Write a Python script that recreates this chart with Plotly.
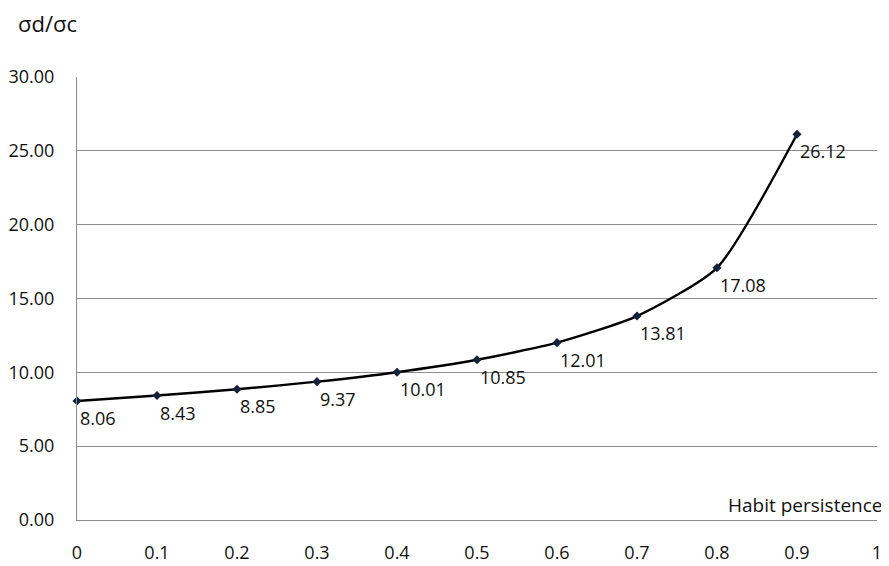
import plotly.graph_objects as go

habit = [0, 0.1, 0.2, 0.3, 0.4, 0.5, 0.6, 0.7, 0.8, 0.9]
ratio = [8.06, 8.43, 8.85, 9.37, 10.01, 10.85, 12.01, 13.81, 17.08, 26.12]
labels = [f"{v:.2f}" for v in ratio]
x_ticks = [0, 0.1, 0.2, 0.3, 0.4, 0.5, 0.6, 0.7, 0.8, 0.9, 1]
x_ticktext = ["0", "0.1", "0.2", "0.3", "0.4", "0.5", "0.6", "0.7", "0.8", "0.9", "1"]
y_ticks = [0, 5, 10, 15, 20, 25, 30]
y_ticktext = [f"{v:.2f}" for v in y_ticks]

FONT = "Open Sans, Liberation Sans, sans-serif"
TXT = "#111111"

fig = go.Figure()
fig.add_trace(go.Scatter(
    x=habit, y=ratio, mode="lines+markers",
    line=dict(color="black", width=2.4, shape="spline", smoothing=0.6),
    marker=dict(symbol="diamond", size=7, color="#14213d"),
    cliponaxis=False, showlegend=False,
))

annotations = [
    dict(x=xv, y=yv, text=t, xref="x", yref="y", showarrow=False,
         xanchor="left", yanchor="top", xshift=1, yshift=-3,
         font=dict(family=FONT, size=18, color=TXT))
    for xv, yv, t in zip(habit, ratio, labels)
]
annotations += [
    dict(text="σd/σc", xref="paper", yref="paper", x=-0.076, y=1.122,
         xanchor="left", yanchor="middle", showarrow=False,
         font=dict(family=FONT, size=22, color=TXT)),
    dict(text="Habit persistence", xref="paper", yref="paper", x=1.01, y=0.034,
         xanchor="right", yanchor="middle", showarrow=False,
         font=dict(family=FONT, size=19, color=TXT)),
]

# page body has an 8px margin, so the figure is sized/margined to compensate
fig.update_layout(
    width=881, height=558,
    margin=dict(l=69, r=12, t=69, b=46),
    paper_bgcolor="white", plot_bgcolor="white",
    font=dict(family=FONT, size=18, color=TXT),
    xaxis=dict(range=[0, 1], tickvals=x_ticks, ticktext=x_ticktext,
               showgrid=False, zeroline=False, showline=True,
               linecolor="#8c8c8c", linewidth=1.2, ticks="",
               ticklabelstandoff=16, tickfont=dict(size=18),
               automargin=False),
    yaxis=dict(range=[0, 30], tickvals=y_ticks, ticktext=y_ticktext,
               showgrid=True, gridcolor="#8c8c8c", gridwidth=1,
               zeroline=False, showline=True, linecolor="#8c8c8c",
               linewidth=1.2, ticks="", ticklabelstandoff=18,
               tickfont=dict(size=18), automargin=False),
    annotations=annotations,
)

fig.write_html("out.html")
